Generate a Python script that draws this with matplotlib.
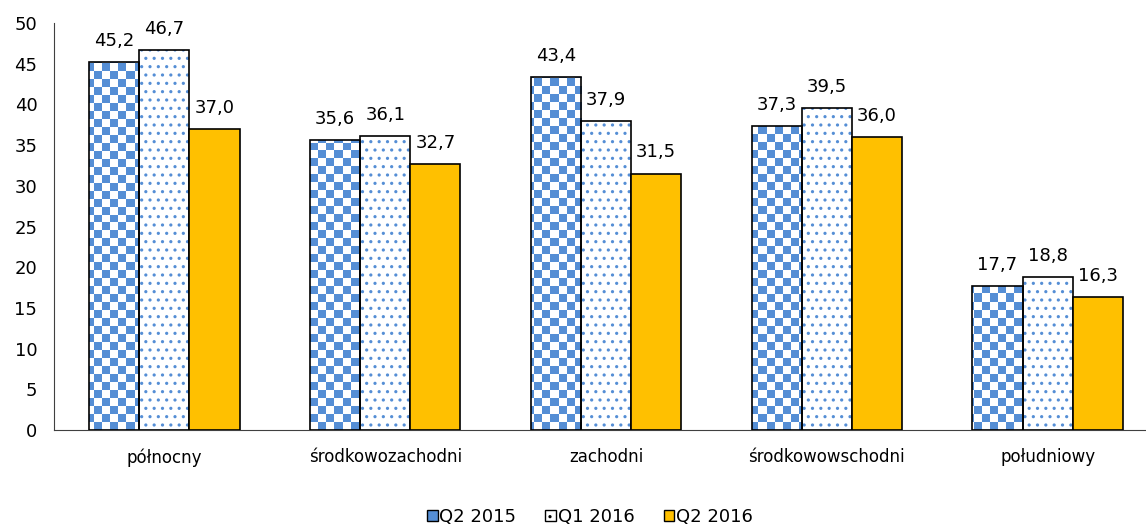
import numpy as np
import matplotlib.pyplot as plt
from matplotlib.patches import Patch

# data
regions = ['północny', 'środkowozachodni', 'zachodni', 'środkowowschodni', 'południowy']
q2_2015 = [45.2, 35.6, 43.4, 37.3, 17.7]
q1_2016 = [46.7, 36.1, 37.9, 39.5, 18.8]
q2_2016 = [37.0, 32.7, 31.5, 36.0, 16.3]
series_names = ['Q2 2015', 'Q1 2016', 'Q2 2016']

BLUE = '#558ED5'
GOLD = '#FFC000'

plt.rcParams['font.family'] = ['DejaVu Sans']

fig = plt.figure(figsize=(11.46, 5.28), dpi=100)
ax = fig.add_axes([54/1146, 1 - 430/528, 1104/1146, 407/528])

x = np.arange(len(regions))
w = 0.227

ax.set_xlim(-0.5, 4.5)
ax.set_ylim(0, 50)

# checkerboard series
b1 = ax.bar(x - w, q2_2015, w, color='white', edgecolor='none', zorder=2)
ny, nx = 51, 138
yy, xx = np.mgrid[0:ny, 0:nx]
checker = ((xx + yy) % 2).astype(float)
cmap = plt.matplotlib.colors.ListedColormap(['white', BLUE])
for p in b1:
    im = ax.imshow(checker, extent=(-0.5, 4.5, 0, 50), aspect='auto',
                   interpolation='nearest', cmap=cmap, origin='lower', zorder=2.5)
    im.set_clip_path(p)
ax.bar(x - w, q2_2015, w, color='none', edgecolor='black', linewidth=1.2, zorder=3)

# dotted series
plt.rcParams['hatch.linewidth'] = 1.1
ax.bar(x, q1_2016, w, color='white', edgecolor=BLUE, hatch='..', linewidth=0, zorder=2)
ax.bar(x, q1_2016, w, color='none', edgecolor='black', linewidth=1.2, zorder=3)

# solid series
ax.bar(x + w, q2_2016, w, color=GOLD, edgecolor='black', linewidth=1.2, zorder=3)

for offs, vals in zip([-w, 0, w], [q2_2015, q1_2016, q2_2016]):
    for xi, v in zip(x + offs, vals):
        ax.text(xi, v + 1.5, f'{v:.1f}'.replace('.', ','), ha='center', va='bottom',
                fontsize=13)

ax.set_xticks(x)
ax.set_xticklabels(regions, fontsize=12)
ax.set_yticks(np.arange(0, 51, 5))
ax.tick_params(axis='y', labelsize=13, length=0, pad=12)
ax.tick_params(axis='x', length=0, pad=13)
for s in ['top', 'right']:
    ax.spines[s].set_visible(False)
ax.spines['left'].set_color('#404040')
ax.spines['bottom'].set_color('#404040')

handles = [Patch(facecolor=BLUE, edgecolor='black'),
           Patch(facecolor='white', edgecolor='black', hatch='..'),
           Patch(facecolor=GOLD, edgecolor='black')]
fig.legend(handles, series_names, loc='center', bbox_to_anchor=(590/1146, 1 - 517/528),
           ncol=3, frameon=False, fontsize=13, handlelength=0.6, handleheight=0.6,
           handletextpad=0.1, columnspacing=1.6)

fig.savefig('out.png', dpi=100)
